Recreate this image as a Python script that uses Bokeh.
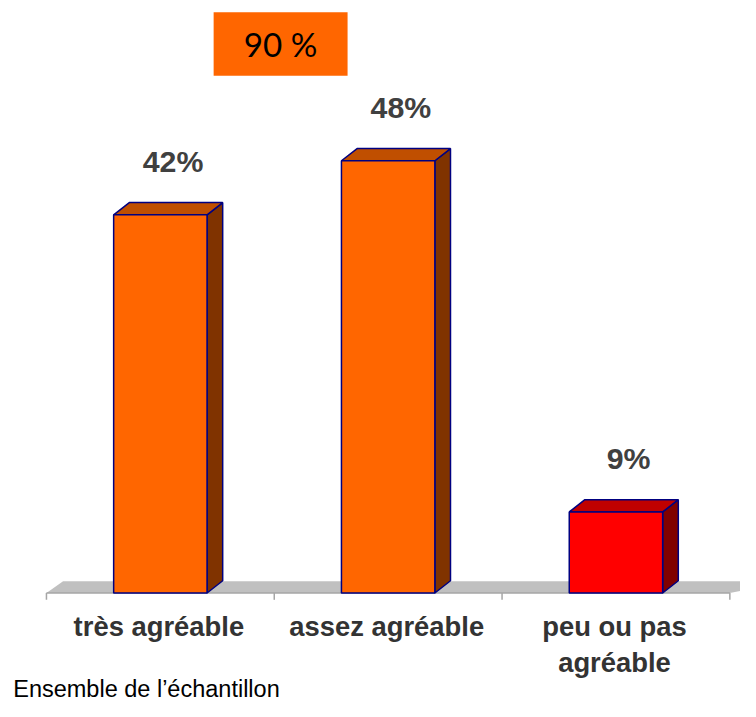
from bokeh.plotting import figure
from bokeh.models import Range1d
from bokeh.core.properties import value
from bokeh.embed import file_html
from bokeh.resources import INLINE

# ---- data ----
categories = ["très agréable", "assez agréable", "peu ou pas\nagréable"]
values = [42, 48, 9]
value_labels = ["42%", "48%", "9%"]
front_colors = ["#FF6600", "#FF6600", "#FF0000"]
top_colors = ["#C04F00", "#C04F00", "#C00000"]
side_colors = ["#803300", "#803300", "#800000"]
total_label = "90 %"
footnote = "Ensemble de l\u2019échantillon"

# ---- geometry (pixel scale of the reference) ----
U = 233.0     # px per category
V = 9.21      # px per percent
X0_PX = 47.0  # reference px of category axis start
Y0_PX = 606.0 # reference px of zero line
W, H = 740, 701
S = H / 717.0  # fit the 756x717 reference into the figure

def xd(px):
    return (px - X0_PX) / U

def yd(px):
    return (Y0_PX - px) / V

def fs(px):
    return "%.1fpx" % (px * S)

DX = 16.0 / U
DY = 12.5 / V
HALF = 0.205

p = figure(width=W, height=H, output_backend="svg", toolbar_location=None,
           title=None, min_border=0,
           x_range=Range1d(xd(0), xd(W / S)), y_range=Range1d(yd(H / S), yd(0)))
p.axis.visible = False
p.grid.visible = False
p.outline_line_color = None
p.background_fill_color = "white"

n = len(categories)
centers = [i + 0.5 for i in range(n)]

# floor
fdx = 17.0 / U
fdy = 12.0 / V
p.patch([0, n, n + fdx + 0.2, fdx], [0, 0, fdy, fdy], fill_color="#C0C0C0", line_color=None)
p.line([0, n], [0, 0], line_color="#A6A6A6", line_width=1.5)
tick_len = 7.0 / V
p.segment(x0=list(range(n + 1)), y0=[0] * (n + 1), x1=list(range(n + 1)),
          y1=[-tick_len] * (n + 1), line_color="#A6A6A6", line_width=1.5)

# bars (3D)
for c, v, fc, tc, sc in zip(centers, values, front_colors, top_colors, side_colors):
    l, r = c - HALF, c + HALF
    p.patch([r, r + DX, r + DX, r], [0, DY, v + DY, v], fill_color=sc,
            line_color="#000080", line_width=1.5)
    p.patch([l, r, r + DX, l + DX], [v, v, v + DY, v + DY], fill_color=tc,
            line_color="#000080", line_width=1.5)
    p.quad(left=[l], right=[r], bottom=[0], top=[v], fill_color=fc,
           line_color="#000080", line_width=1.5)

# value labels
p.text(x=[c + 13.0 / U for c in centers], y=[v + 5.9 for v in values], text=value_labels,
       text_font=value("Liberation Sans"), text_font_style="bold", text_font_size=fs(31),
       text_color="#404040", text_align="center", text_baseline="middle")

# category labels
lx, ly, lt = [], [], []
for c, cat in zip(centers, categories):
    for j, line in enumerate(cat.split("\n")):
        lx.append(c - 1.5 / U)
        ly.append(yd(640 + 37 * j))
        lt.append(line)
p.text(x=lx, y=ly, text=lt, text_font=value("Liberation Sans"), text_font_style="bold",
       text_font_size=fs(28), text_color="#333333", text_align="center",
       text_baseline="middle")

# total box
total = values[0] + values[1]
p.quad(left=[xd(218)], right=[xd(355)], bottom=[yd(77)], top=[yd(12)],
       fill_color="#FF6600", line_color=None)
p.text(x=[xd(286.5)], y=[yd(45)], text=[total_label], text_font=value("Lato"),
       text_font_size=fs(34), text_color="#000000", text_align="center",
       text_baseline="middle")

# footnote
p.text(x=[xd(13)], y=[yd(704)], text=[footnote], text_font=value("Liberation Sans"),
       text_font_size=fs(24), text_color="#000000", text_align="left",
       text_baseline="middle")

open("out.html", "w").write(file_html(p, INLINE))
